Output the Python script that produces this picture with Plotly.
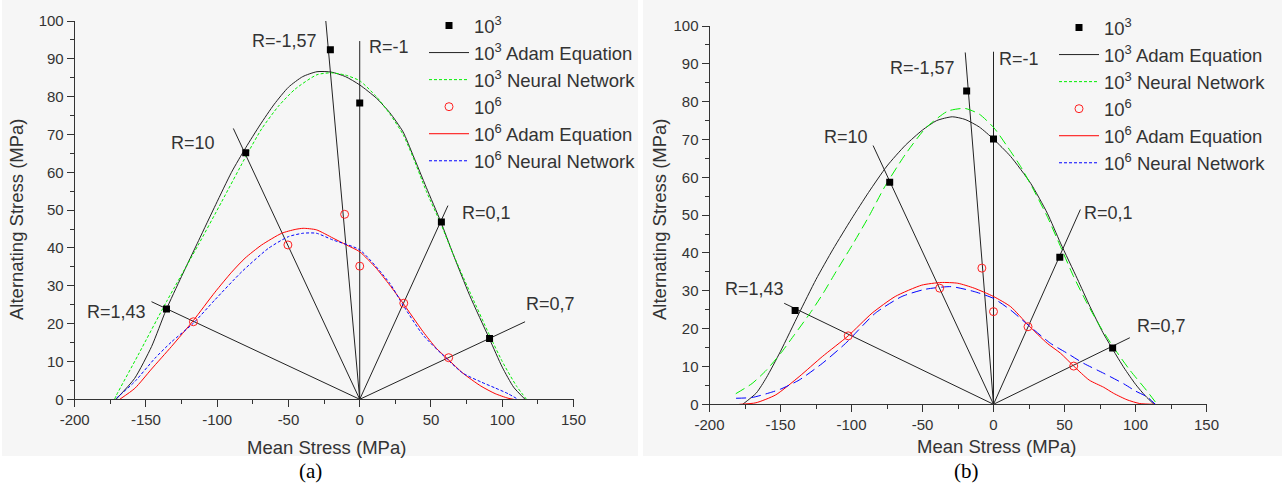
import plotly.graph_objects as go

# ---------------- Panel (a) data ----------------
a_exp3_x = [-135.6, -80.0, -20.6, 0.0, 57.3, 91.1]
a_exp3_y = [23.9, 65.2, 92.4, 78.3, 46.9, 16.1]
a_exp6_x = [-116.7, -50.4, -10.6, 0.0, 30.9, 62.4]
a_exp6_y = [20.5, 40.8, 48.9, 35.2, 25.4, 11.0]

a_adam3_x = [-171, -158, -146, -136, -125, -113, -101, -90, -80, -70, -60, -50, -40, -30, -20,
             -10, 0, 11.7, 21, 30.4, 37.4, 46.7, 56.8, 65.4, 77.1, 91, 100, 108, 116]
a_adam3_y = [0, 5.5, 14.0, 23.5, 32.5, 42.0, 51.5, 60.0, 66.5, 72.5, 78.0, 82.5, 85.3, 86.6, 86.5,
             85.3, 83.1, 79.6, 75.8, 70.7, 64.5, 56.0, 47.0, 38.5, 27.5, 16.0, 8.5, 3.2, 0]
a_nn3_x = [-172, -170.7, -155.5, -135.6, -113.3, -96.9, -79.3, -68.8, -57, -45.3, -30, -20, -10,
           0, 11.7, 21, 30.4, 37.4, 46.7, 56.8, 65.4, 77.1, 91, 100, 110, 117]
a_nn3_y = [0, 1.1, 11.7, 25.8, 40.8, 52.2, 64.6, 71.5, 77.5, 82.0, 85.8, 86.3, 85.7,
           84.2, 80.0, 75.5, 70.0, 64.0, 55.0, 46.5, 38.5, 28.5, 17.0, 10.0, 3.5, 0]
a_adam6_x = [-168.4, -157.8, -146.1, -132, -116.8, -101.6, -89.9, -80.5, -68.8, -54.7, -45.3,
             -39.7, -30.4, -18.7, -9.3, 0, 11.7, 21, 30.4, 44.4, 53.7, 61.9, 72.4, 85, 95, 104, 108]
a_adam6_y = [0, 2.9, 8.0, 14.0, 20.8, 28.3, 33.6, 37.3, 40.8, 43.9, 44.9,
             45.2, 44.8, 42.6, 40.8, 39.0, 34.6, 30.2, 25.4, 17.9, 13.5, 10.6, 6.9, 3.5, 1.5, 0.3, 0]
a_nn6_x = [-170.7, -157.8, -143.8, -132, -116.8, -101.6, -82.8, -64.1, -50, -39.7, -30.4, -18.7,
           0, 21, 30.4, 44.4, 61.9, 72.4, 85, 95, 104, 111]
a_nn6_y = [0.3, 4.7, 10.8, 15.2, 20.1, 26.3, 33.7, 39.9, 43.0, 43.9, 43.9, 42.1,
           39.5, 30.7, 24.9, 17.0, 10.4, 6.9, 4.6, 3.0, 1.5, 0]

a_ray_x = [-23.8, 0.0, -88.7, -146.1, 61.9, 116.0]
a_ray_y = [100.0, 94.7, 71.6, 25.8, 51.2, 20.5]
a_lab_text = ["R=-1,57", "R=-1", "R=10", "R=1,43", "R=0,1", "R=0,7"]
a_lab_x = [-53.0, 20.8, -117.2, -170.9, 88.9, 134.2]
a_lab_y = [94.8, 93.2, 67.7, 23.0, 49.2, 25.2]

# ---------------- Panel (b) data ----------------
b_exp3_x = [-139.7, -73.1, -18.9, 0.0, 46.7, 83.9]
b_exp3_y = [24.8, 58.7, 82.8, 70.1, 38.9, 14.9]
b_exp6_x = [-102.3, -37.9, -8.2, 0.0, 24.3, 56.5]
b_exp6_y = [18.1, 30.7, 36.0, 24.5, 20.5, 10.1]

b_adam3_x = [-176.6, -167, -160, -150, -137, -125, -113, -100, -88, -75, -62, -50, -40, -29, -20,
             -10, 0, 12.1, 26.2, 37.9, 47.2, 59, 68, 77, 84, 92, 100, 107, 113]
b_adam3_y = [0, 3.0, 7.0, 14.0, 24.0, 33.0, 41.0, 49.0, 56.0, 63.0, 68.5, 72.5, 75.0, 76.0, 75.3,
             73.3, 70.1, 65.5, 58.4, 50.5, 42.6, 33.2, 25.8, 19.0, 14.5, 9.6, 5.3, 2.2, 0]
b_nn3_x = [-181.5, -170, -160, -150, -140, -128.4, -119.7, -111, -99.6, -88, -76.6, -62.2, -47.8,
           -32.2, -20, -10, 0.5, 9.8, 19.2, 28.5, 37.9, 47.2, 56.5, 65.9, 75.2, 84.6, 96.1,
           107.7, 114]
b_nn3_y = [2.8, 5.5, 9.0, 13.4, 18.5, 24.5, 29.5, 35.0, 42.0, 49.5, 57.5, 66.0, 73.0,
           77.5, 78.2, 76.7, 73.0, 68.1, 62.8, 56.5, 49.6, 41.7, 33.7, 26.7, 20.5, 15.0, 9.0,
           3.7, 0.6]
b_adam6_x = [-179, -167.3, -153.3, -136.9, -120.6, -102.3, -85.5, -69.2, -50.5, -36.9, -25.2,
             -13.6, 0, 12.1, 24.3, 37.9, 47.2, 56.5, 67.4, 77.6, 84.6, 94, 103, 114]
b_adam6_y = [0, 0.4, 2.5, 7.3, 12.6, 18.1, 24.1, 28.5, 31.5, 32.2, 32.0,
             30.7, 28.5, 25.8, 21.0, 16.1, 13.5, 10.1, 6.4, 4.5, 2.9, 1.2, 0.2, 0]
b_nn6_x = [-181.3, -170, -158, -150, -136.9, -120.6, -104.2, -83.2, -64.5, -48.1, -29.9, -13.6,
           0, 12.1, 24.3, 40.2, 51.9, 63.6, 77.6, 91.8, 100, 108, 114]
b_nn6_y = [1.6, 1.8, 3.0, 4.0, 6.4, 10.8, 16.1, 24.1, 28.5, 30.4, 31.1, 29.8,
           28.0, 24.9, 21.0, 16.1, 13.5, 10.8, 8.2, 5.4, 3.5, 2.0, 0]

b_ray_x = [-19.9, 0.0, -84.8, -147.4, 61.2, 96.0]
b_ray_y = [93.0, 93.2, 68.4, 26.7, 51.5, 17.6]
b_lab_text = ["R=-1,57", "R=-1", "R=10", "R=1,43", "R=0,1", "R=0,7"]
b_lab_x = [-50.1, 17.7, -103.9, -168.0, 80.9, 118.2]
b_lab_y = [88.8, 91.2, 70.6, 30.6, 50.5, 20.7]

# ---------------- Axes ----------------
x_ticks = [-200, -150, -100, -50, 0, 50, 100, 150]
x_ticktext = ["-200", "-150", "-100", "-50", "0", "50", "100", "150"]
y_ticks = [0, 10, 20, 30, 40, 50, 60, 70, 80, 90, 100]
y_ticktext = ["0", "10", "20", "30", "40", "50", "60", "70", "80", "90", "100"]

name_exp3 = "10<sup>3</sup>"
name_adam3 = "10<sup>3</sup> Adam Equation"
name_nn3 = "10<sup>3</sup> Neural Network"
name_exp6 = "10<sup>6</sup>"
name_adam6 = "10<sup>6</sup> Adam Equation"
name_nn6 = "10<sup>6</sup> Neural Network"

FONT = "Liberation Sans, Arial, sans-serif"
TXT = "#333333"
W, H = 1282, 484

fig = go.Figure()


def rays(ex, ey):
    xs, ys = [], []
    for x, y in zip(ex, ey):
        xs += [0, x, None]
        ys += [0, y, None]
    return xs, ys


def add_panel(xa, ya, leg, exp3x, exp3y, exp6x, exp6y, ad3x, ad3y, nn3x, nn3y,
              ad6x, ad6y, nn6x, nn6y, rx, ry, dash, legend_dummy):
    ax = dict(xaxis=xa, yaxis=ya)
    spl = dict(shape="spline", smoothing=0.6)
    rxs, rys = rays(rx, ry)
    fig.add_trace(go.Scatter(x=rxs, y=rys, mode="lines", line=dict(color="#222222", width=1),
                             showlegend=False, hoverinfo="skip", **ax))
    fig.add_trace(go.Scatter(x=ad3x, y=ad3y, mode="lines", name=name_adam3, legend=leg, legendrank=2,
                             line=dict(color="#222222", width=1, **spl), **ax))
    fig.add_trace(go.Scatter(x=nn3x, y=nn3y, mode="lines", name=name_nn3, legend=leg, legendrank=3,
                             showlegend=not legend_dummy,
                             line=dict(color="#00ee00", width=1, dash=dash, **spl), **ax))
    fig.add_trace(go.Scatter(x=ad6x, y=ad6y, mode="lines", name=name_adam6, legend=leg, legendrank=5,
                             line=dict(color="#ff0000", width=1, **spl), **ax))
    fig.add_trace(go.Scatter(x=nn6x, y=nn6y, mode="lines", name=name_nn6, legend=leg, legendrank=6,
                             showlegend=not legend_dummy,
                             line=dict(color="#0000ff", width=1, dash=dash, **spl), **ax))
    if legend_dummy:
        fig.add_trace(go.Scatter(x=[None], y=[None], mode="lines", name=name_nn3, legend=leg, legendrank=3,
                                 line=dict(color="#00ee00", width=1, dash="3px,2px"), **ax))
        fig.add_trace(go.Scatter(x=[None], y=[None], mode="lines", name=name_nn6, legend=leg, legendrank=6,
                                 line=dict(color="#0000ff", width=1, dash="3px,2px"), **ax))
    fig.add_trace(go.Scatter(x=exp3x, y=exp3y, mode="markers", name=name_exp3, legend=leg, legendrank=1,
                             marker=dict(symbol="square", size=7, color="#000000"), **ax))
    fig.add_trace(go.Scatter(x=exp6x, y=exp6y, mode="markers", name=name_exp6, legend=leg, legendrank=4,
                             marker=dict(symbol="circle-open", size=8, color="#ff2020", line=dict(width=1)),
                             **ax))


add_panel("x", "y", "legend", a_exp3_x, a_exp3_y, a_exp6_x, a_exp6_y, a_adam3_x, a_adam3_y,
          a_nn3_x, a_nn3_y, a_adam6_x, a_adam6_y, a_nn6_x, a_nn6_y, a_ray_x, a_ray_y, "3px,2px", False)
add_panel("x2", "y2", "legend2", b_exp3_x, b_exp3_y, b_exp6_x, b_exp6_y, b_adam3_x, b_adam3_y,
          b_nn3_x, b_nn3_y, b_adam6_x, b_adam6_y, b_nn6_x, b_nn6_y, b_ray_x, b_ray_y, "10px,5px", True)


def px_x(p):
    return p / W


def px_y(p):
    return 1 - p / H


common_x = dict(range=[-200, 150], tickvals=x_ticks, ticktext=x_ticktext, showgrid=False, zeroline=False,
                showline=True, linecolor="#333333", linewidth=1, ticks="outside", ticklen=7, tickwidth=1,
                tickcolor="#333333", tickfont=dict(family=FONT, size=15, color=TXT), automargin=False,
                minor=dict(dtick=25, ticks="outside", ticklen=4, tickcolor="#333333", showgrid=False))
common_y = dict(range=[0, 100], tickvals=y_ticks, ticktext=y_ticktext, showgrid=False, zeroline=False,
                showline=True, linecolor="#333333", linewidth=1, ticks="outside", ticklen=7, tickwidth=1,
                tickcolor="#333333", tickfont=dict(family=FONT, size=15, color=TXT), automargin=False,
                minor=dict(dtick=5, ticks="outside", ticklen=4, tickcolor="#333333", showgrid=False))

legend_common = dict(bgcolor="rgba(0,0,0,0)", borderwidth=0, itemwidth=40, orientation="v",
                     xanchor="left", yanchor="top", font=dict(family=FONT, size=18.5, color=TXT),
                     traceorder="normal", itemclick=False)

fig.update_layout(
    width=W, height=H, margin=dict(l=0, r=0, t=0, b=0, autoexpand=False),
    paper_bgcolor="#ffffff", plot_bgcolor="rgba(0,0,0,0)",
    font=dict(family=FONT, color=TXT),
    xaxis=dict(domain=[px_x(74.7), px_x(573.5)], anchor="y", **common_x),
    yaxis=dict(domain=[px_y(399.3), px_y(21)], anchor="x", **common_y),
    xaxis2=dict(domain=[px_x(709.5), px_x(1206.5)], anchor="y2", **common_x),
    yaxis2=dict(domain=[px_y(404.3), px_y(26)], anchor="x2", **common_y),
    legend=dict(x=px_x(424), y=px_y(7), **legend_common),
    legend2=dict(x=px_x(1054), y=px_y(9), **legend_common),
    showlegend=True,
)

# panel backgrounds
for x0, x1 in [(2, 638), (643, 1282)]:
    fig.add_shape(type="rect", xref="paper", yref="paper", x0=px_x(x0), x1=px_x(x1),
                  y0=px_y(456), y1=1, fillcolor="#f6f6f6", line=dict(width=0), layer="below")

# R labels
for xr, yr, tx, ty, tt in [("x", "y", a_lab_x, a_lab_y, a_lab_text), ("x2", "y2", b_lab_x, b_lab_y, b_lab_text)]:
    for x, y, t in zip(tx, ty, tt):
        fig.add_annotation(x=x, y=y, xref=xr, yref=yr, text=t, showarrow=False,
                           font=dict(family=FONT, size=18, color=TXT), xanchor="center", yanchor="middle")

# axis titles and panel letters
for cx, cy, t in [(326.5, 447, "Mean Stress (MPa)"), (996.5, 446, "Mean Stress (MPa)")]:
    fig.add_annotation(x=px_x(cx), y=px_y(cy), xref="paper", yref="paper", text=t, showarrow=False,
                       font=dict(family=FONT, size=18.5, color=TXT), xanchor="center", yanchor="middle")
for cx, cy in [(16, 219), (659, 219)]:
    fig.add_annotation(x=px_x(cx), y=px_y(cy), xref="paper", yref="paper", text="Alternating Stress (MPa)",
                       showarrow=False, textangle=-90,
                       font=dict(family=FONT, size=18.5, color=TXT), xanchor="center", yanchor="middle")
for cx, t in [(310, "(a)"), (966, "(b)")]:
    fig.add_annotation(x=px_x(cx), y=px_y(471), xref="paper", yref="paper", text=t, showarrow=False,
                       font=dict(family="Liberation Serif, Times New Roman, serif", size=21, color="#000000"),
                       xanchor="center", yanchor="middle")

fig.write_html("out.html", config={"displayModeBar": False},
               post_script="document.body.style.margin='0';")
